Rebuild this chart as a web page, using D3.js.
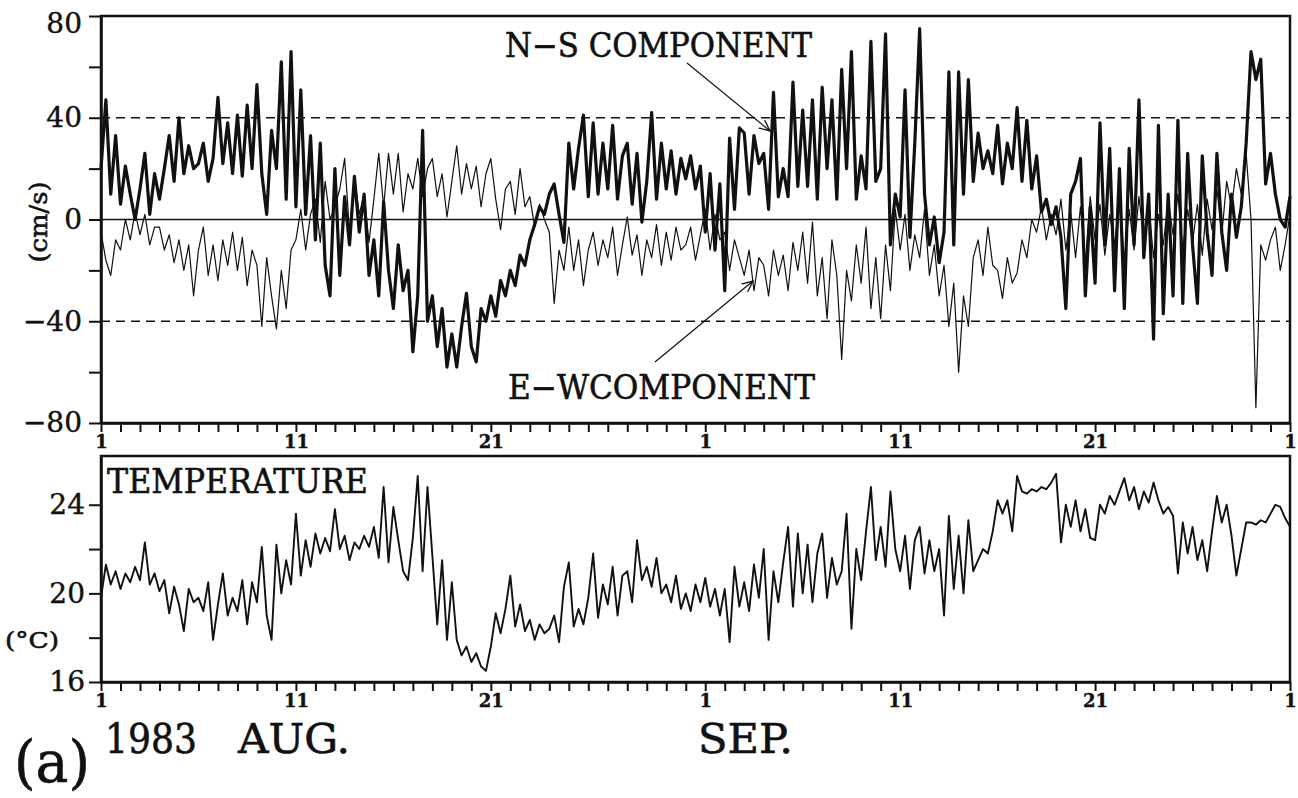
<!DOCTYPE html>
<html>
<head>
<meta charset="utf-8">
<script src="https://cdn.jsdelivr.net/npm/d3@7"></script>
<style>
  body { margin: 0; background: #fff; }
</style>
</head>
<body>
<svg id="chart" width="1298" height="798"></svg>
<script>
// current meter record, 1983 Aug 1 - Oct 1, one value every 6 hours (4 per day)
// N-S component (cm/s)
const nsFlow = [
  20, 47, 10, 33,   6, 21, 10, 0,    12, 26, 2, 18,    8, 20, 33, 15,
  40, 18, 29, 20,   22, 30, 15, 24,  48, 22, 38, 18,   41, 17, 45, 20,
  53, 18, 2, 35,    20, 62, 8, 66,   5, 51, 2, 33,     -8, 30, -18, -30,
  20, -22, 9, -10,  17, -5, 10, -22, -8, -30, 7, -20,  -35, -10, -28, -20,
  -52, -30, 35, -40, -30, -50, -35, -58, -45, -58, -42, -29, -50, -56, -35, -40,
  -30, -38, -24, -30, -20, -26, -14, -18, -8, -2, 5, 2, 10, 14, 2, -9,
  30, 12, 28, 41,   9, 38, 10, 30,   12, 37, 8, 25,    30, 6, 26, -1,
  15, 42, 8, 30,    12, 27, 10, 24,  16, 25, 12, 21,   -5, 18, -12, 14,
  -28, 32, 4, 36,   34, 10, 33, 22,  26, 4, 50, 9,     20, 9, 54, 13,
  43, 13, 47, 8,    52, 20, 47, 8,   59, 20, 66, 8,    25, 12, 70, 15,
  20, 73, -10, 10,  1, 51, -7, 30,   75, 10, -10, 1,   -17, -5, 58, -10,
  58, 10, 55, 15,   34, 20, 27, 18,  37, 14, 30, 20,   44, 15, 39, 12,
  25, 3, 8, -2,     5, -7, -35, 10,  15, 24, -30, 5,   -25, 38, -10, 28,
  -28, 20, -35, 28, -10, 47, -15, 10, -47, 37, -37, 10, -30, 39, -33, 26,
  -10, -33, 25, -5, -22, 26, -5, -20, 10, -7, 5, 30,   66, 55, 63, 14,
  26, 10, 0, -3,
  9
];

// E-W component (cm/s)
const ewFlow = [
  -5, -16, -22, -8,  -12, 0, -8, 3,   -6, 2, -10, -3,   -3, -12, -6, -17,
  -8, -20, -10, -30, -12, -3, -22, -10, -24, -8, -18, -5, -20, -7, -26, -12,
  -18, -42, -15, -30, -43, -20, -35, -12, -8, 4, -12, 2, 8, -9, 15, 0,
  5, 12, 24, -5,     17, 2, 10, -9,   8, 26, 5, 26,     10, 26, 3, 18,
  12, 24, 9, 20,     24, 9, 18, 1,    15, 29, 10, 22,   12, 21, 5, 18,
  24, 8, -4, 12,     15, 2, 20, 5,    9, -3, 6, 0,      -5, -33, -12, -20,
  -3, -20, -8, -26,  -12, -5, -18, -8, -15, -3, -22, -10, 1, -14, -6, -22,
  -8, -15, -2, -18,  -5, -16, -3, -12, -10, -3, -16, -6, 4, -12, 2, -8,
  -5, -20, -8, -15,  -22, -12, -28, -15, -18, -30, -12, -22, -14, -28, -9, -20,
  -5, -25, -1, -30,  -15, -39, -8, -22, -55, -20, -32, -10, -25, -3, -35, -15,
  -39, -10, -28, 4,  -12, 2, -20, -6, -15, 4, -22, -10, -30, -18, -42, -25,
  -60, -30, -42, -15, -8, -22, -3, -18, -20, -31, -15, -25, -21, -8, -15, 0,
  -5, 5, -8, 2,      -6, 8, -12, 3,   -15, 5, -17, 9,   -8, 6, -14, 2,
  -10, 8, -16, 4,    -12, 9, -8, 6,   -15, 2, -10, 8,   -6, 10, -12, 4,
  -9, 6, -14, 8,     -4, 12, -6, 15,  5, 20, 10, 26,    0, -74, -10, -16,
  -8, -3, -20, -10,
  2
];

// water temperature (deg C)
const temperature = [
  19.8, 21.3, 20.4, 21.0,  20.2, 20.9, 20.5, 21.2,  20.6, 22.3, 20.4, 20.9,  20.1, 20.6, 19.1, 20.3,
  19.5, 18.3, 20.2, 19.6,  19.8, 19.2, 20.5, 17.9,  19.5, 20.9, 19.0, 19.8,  19.2, 20.6, 18.6, 20.5,
  19.6, 22.1, 19.0, 17.9,  22.2, 20.0, 21.5, 20.4,  23.6, 20.8, 22.4, 21.2,  22.7, 21.8, 22.5, 21.9,
  23.8, 22.0, 22.6, 21.5,  22.3, 22.0, 22.6, 22.1,  23.0, 21.6, 24.8, 21.4,  23.9, 22.4, 21.0, 20.6,
  22.5, 25.3, 21.0, 24.8,  21.7, 18.6, 21.5, 17.9,  20.5, 17.9, 17.2, 17.6,  16.9, 17.3, 16.7, 16.5,
  17.6, 19.1, 18.2, 19.3,  20.8, 18.5, 19.5, 18.3,  18.8, 17.9, 18.6, 18.2,  18.4, 19.0, 17.8, 20.3,
  21.4, 18.5, 19.3, 18.6,  19.8, 21.8, 18.9, 20.4,  19.5, 21.2, 19.0, 20.8,  21.0, 19.6, 22.4, 20.6,
  21.2, 20.3, 21.6, 20.0,  20.4, 19.6, 20.8, 19.3,  20.0, 19.2, 20.4, 19.6,  20.7, 19.4, 20.2, 19.0,
  20.2, 17.8, 21.2, 19.4,  20.5, 19.2, 21.3, 19.8,  22.0, 17.9, 21.0, 19.6,  21.4, 23.0, 19.4, 22.7,
  20.0, 22.2, 19.6, 21.8,  22.7, 19.8, 21.6, 20.4,  21.0, 23.6, 18.4, 22.0,  20.6, 22.8, 24.8, 21.5,
  23.0, 21.2, 24.6, 22.0,  21.0, 22.6, 20.2, 22.4,  23.0, 20.9, 22.4, 21.0,  22.0, 19.0, 23.5, 20.2,
  22.6, 20.0, 23.3, 21.0,  21.5, 22.0, 21.8, 22.8,  24.2, 23.6, 24.2, 22.8,  25.3, 24.6, 24.5, 24.7,
  24.6, 24.8, 24.7, 25.0,  25.4, 22.3, 24.0, 23.0,  24.2, 22.8, 23.8, 22.5,  22.4, 24.0, 23.6, 24.4,
  24.0, 24.6, 25.2, 24.2,  24.8, 23.8, 24.6, 24.1,  25.0, 24.2, 23.6, 23.9,  23.5, 20.9, 23.2, 21.8,
  23.0, 21.5, 22.4, 21.0,  22.8, 24.4, 23.2, 24.0,  22.6, 20.8, 22.0, 23.2,  23.2, 23.1, 23.3, 23.2,
  23.6, 24.0, 23.9, 23.4,
  23.0
];

const samplesPerDay = 4;
const flowTicks = [80, 60, 40, 20, 0, -20, -40, -60, -80];
const flowLabels = [80, 40, 0, -40, -80];
const tempTicks = [16, 18, 20, 22, 24];
const tempLabels = [16, 20, 24];
const refLines = [40, -40];
// day index from Aug 1 -> label
const dayLabels = { 0: "1", 10: "11", 20: "21", 31: "1", 41: "11", 51: "21", 61: "1" };

const serif = "'DejaVu Serif', 'Liberation Serif', serif";
const svg = d3.select("#chart");

const x = d3.scaleLinear().domain([0, 61]).range([101, 1290]);
const yFlow = d3.scaleLinear().domain([-80, 80]).range([423, 16]);
const yTemp = d3.scaleLinear().domain([16, 26.2]).range([682, 456]);

const fmt = d3.format("d");

// frames
function frame(y0, y1) {
  svg.append("rect")
    .attr("x", x.range()[0]).attr("y", y0)
    .attr("width", x.range()[1] - x.range()[0]).attr("height", y1 - y0)
    .attr("fill", "none").attr("stroke", "#111").attr("stroke-width", 2.5);
}
frame(yFlow.range()[1], yFlow.range()[0]);
frame(yTemp.range()[1], yTemp.range()[0]);

// reference lines
svg.append("line")
  .attr("x1", x(0)).attr("x2", x(61))
  .attr("y1", yFlow(0)).attr("y2", yFlow(0))
  .attr("stroke", "#111").attr("stroke-width", 1.4);
svg.selectAll(".ref").data(refLines).join("line")
  .attr("x1", x(0)).attr("x2", x(61))
  .attr("y1", d => yFlow(d)).attr("y2", d => yFlow(d))
  .attr("stroke", "#111").attr("stroke-width", 1.4)
  .attr("stroke-dasharray", "9,6");

// axes
function styleAxis(g, size, weight) {
  g.select(".domain").attr("stroke-width", 2.5).attr("stroke", "#111");
  g.selectAll(".tick line").attr("stroke-width", 2).attr("stroke", "#111");
  g.selectAll("text").attr("font-family", serif).attr("font-size", size)
    .attr("font-weight", weight).attr("fill", "#111")
    .attr("stroke", "#111").attr("stroke-width", 0.4);
}

svg.append("g").attr("transform", `translate(${x(0)},0)`)
  .call(d3.axisLeft(yFlow).tickValues(flowTicks).tickSize(12).tickSizeOuter(0).tickPadding(7)
    .tickFormat(d => flowLabels.includes(d) ? fmt(d) : ""))
  .call(g => styleAxis(g, 28, "normal"))
  .call(g => g.selectAll("text").filter(d => d === 80).attr("dy", "0.6em"));

svg.append("g").attr("transform", `translate(${x(0)},0)`)
  .call(d3.axisLeft(yTemp).tickValues(tempTicks).tickSize(12).tickSizeOuter(0).tickPadding(4)
    .tickFormat(d => tempLabels.includes(d) ? fmt(d) : ""))
  .call(g => styleAxis(g, 28, "normal"));

const dayAxis = d3.axisBottom(x).tickValues(d3.range(0, 62)).tickSize(9).tickSizeOuter(0)
  .tickPadding(3).tickFormat(d => dayLabels[d] || "");

svg.append("g").attr("transform", `translate(0,${yFlow(-80)})`)
  .call(dayAxis).call(g => styleAxis(g, 18, "bold"));
svg.append("g").attr("transform", `translate(0,${yTemp(16)})`)
  .call(dayAxis).call(g => styleAxis(g, 18, "bold"));

// series
const line = (y) => d3.line().x((d, i) => x(i / samplesPerDay)).y(d => y(d));

svg.append("path").datum(ewFlow)
  .attr("d", line(yFlow)).attr("fill", "none")
  .attr("stroke", "#111").attr("stroke-width", 1.2).attr("stroke-linejoin", "round");

svg.append("path").datum(nsFlow)
  .attr("d", line(yFlow)).attr("fill", "none")
  .attr("stroke", "#111").attr("stroke-width", 3.2).attr("stroke-linejoin", "round");

svg.append("path").datum(temperature)
  .attr("d", line(yTemp)).attr("fill", "none")
  .attr("stroke", "#111").attr("stroke-width", 1.9).attr("stroke-linejoin", "round");

// labels
function label(txt, lx, ly, size, len) {
  const t = svg.append("text").attr("x", lx).attr("y", ly)
    .attr("font-family", serif).attr("font-size", size).attr("fill", "#111")
    .attr("stroke", "#111").attr("stroke-width", 0.6).text(txt);
  if (len) t.attr("textLength", len).attr("lengthAdjust", "spacingAndGlyphs");
  return t;
}
label("N\u2212S COMPONENT", 505, 57, 33, 307);
label("E\u2212WCOMPONENT", 508, 399, 33, 307);
label("TEMPERATURE", 107, 493, 33, 261);
label("(cm/s)", 0, 0, 25, 81)
  .attr("text-anchor", "middle")
  .attr("transform", "translate(47,222) rotate(-90)");
label("(\u00b0C)", 5, 648, 22, 54);
label("1983", 105, 753, 41, 92);
label("AUG.", 238, 753, 41, 112);
label("SEP.", 698, 753, 41, 95);
label("(a)", 14, 782, 58, 76);

// arrows
const defs = svg.append("defs");
defs.append("marker").attr("id", "head")
  .attr("viewBox", "0 0 12 12").attr("refX", 11).attr("refY", 6)
  .attr("markerWidth", 12).attr("markerHeight", 12).attr("markerUnits", "userSpaceOnUse")
  .attr("orient", "auto")
  .append("path").attr("d", "M0,1 L11,6 L0,11").attr("fill", "none")
  .attr("stroke", "#111").attr("stroke-width", 1.3);

const arrows = [
  { from: [687, 63], to: [770, 131] },
  { from: [655, 362], to: [753, 281] }
];
svg.selectAll(".arrow").data(arrows).join("line")
  .attr("x1", d => d.from[0]).attr("y1", d => d.from[1])
  .attr("x2", d => d.to[0]).attr("y2", d => d.to[1])
  .attr("stroke", "#111").attr("stroke-width", 1.2)
  .attr("marker-end", "url(#head)");
</script>
</body>
</html>
